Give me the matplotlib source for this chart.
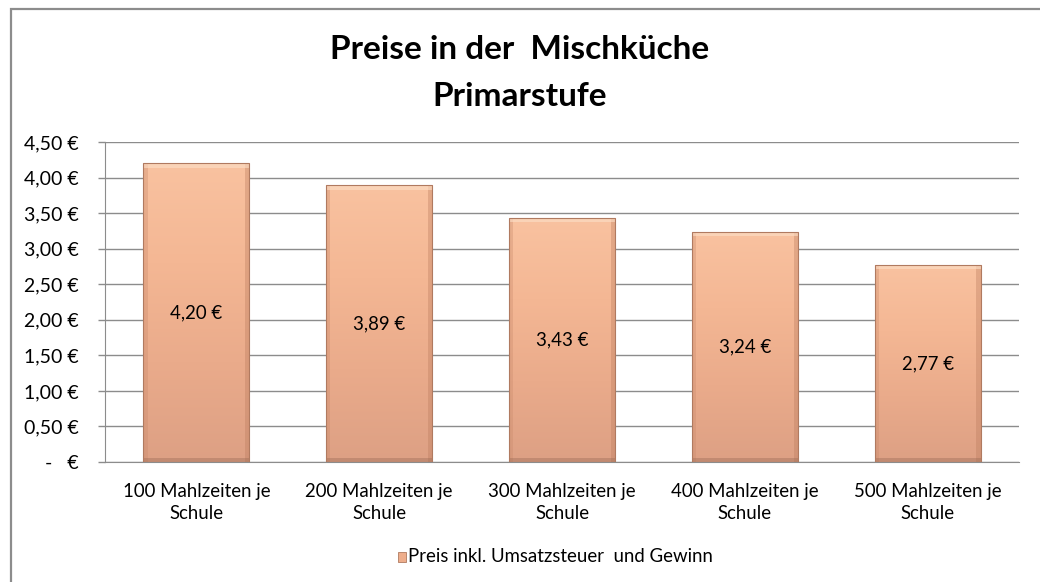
import numpy as np
import matplotlib
matplotlib.use("Agg")
import matplotlib.pyplot as plt
from matplotlib.patches import Rectangle
from matplotlib.colors import LinearSegmentedColormap

plt.rcParams['font.family'] = ['Lato', 'DejaVu Sans']

categories = ["100 Mahlzeiten je\nSchule", "200 Mahlzeiten je\nSchule",
              "300 Mahlzeiten je\nSchule", "400 Mahlzeiten je\nSchule",
              "500 Mahlzeiten je\nSchule"]
values = [4.20, 3.89, 3.43, 3.24, 2.77]
value_labels = ["4,20 €", "3,89 €", "3,43 €", "3,24 €", "2,77 €"]
yticks = [0, 0.5, 1.0, 1.5, 2.0, 2.5, 3.0, 3.5, 4.0, 4.5]
ytick_labels = ["-   €", "0,50 €", "1,00 €", "1,50 €", "2,00 €", "2,50 €",
                "3,00 €", "3,50 €", "4,00 €", "4,50 €"]
title = "Preise in der  Mischküche\nPrimarstufe"
legend_label = "Preis inkl. Umsatzsteuer  und Gewinn"

W, H = 1040, 582
fig = plt.figure(figsize=(W/100, H/100), dpi=100)

# outer chart frame
fig.patches.append(Rectangle((11/W, -0.05), 1.2, (H-9)/H + 0.05,
                             transform=fig.transFigure, fill=False,
                             edgecolor="#8c8c8c", linewidth=1.6))

left, right, top, bottom = 105, 1019, 142, 462
ax = fig.add_axes([left/W, 1-bottom/H, (right-left)/W, (bottom-top)/H])
ax.set_xlim(-0.5, len(values)-0.5)
ax.set_ylim(0, 4.5)
ax.set_yticks(yticks)
ax.set_yticklabels(ytick_labels, fontsize=14)
ax.set_xticks(range(len(values)))
ax.set_xticklabels(categories, fontsize=13.4, linespacing=1.4)
ax.tick_params(axis='x', length=0, pad=15)
ax.tick_params(axis='y', length=5, color="#8c8c8c", width=1, pad=14)
ax.grid(axis='y', color="#8c8c8c", linewidth=1)
ax.set_axisbelow(True)
for s in ['top', 'right']:
    ax.spines[s].set_visible(False)
ax.spines['left'].set_color("#8c8c8c")
ax.spines['bottom'].set_color("#8c8c8c")

cmap = LinearSegmentedColormap.from_list(
    "peach", ["#dda084", "#eaab8b", "#f4b794", "#f9c2a0"])
grad = np.linspace(0, 1, 256).reshape(-1, 1)
bw = 0.58
bars = ax.bar(range(len(values)), values, width=bw, color="none",
              edgecolor="#b07a60", linewidth=0.8, zorder=3)
for i, (b, v) in enumerate(zip(bars, values)):
    im = ax.imshow(grad, cmap=cmap, aspect='auto', origin='lower',
                   extent=[i-bw/2, i+bw/2, 0, v], zorder=2)
    im.set_clip_path(b)
    # subtle bevel edges
    ax.add_patch(Rectangle((i-bw/2, 0), bw*0.04, v, color="#c98a6c",
                           alpha=0.35, zorder=2.5, linewidth=0))
    ax.add_patch(Rectangle((i+bw/2-bw*0.04, 0), bw*0.04, v, color="#b97a5c",
                           alpha=0.35, zorder=2.5, linewidth=0))
    ax.add_patch(Rectangle((i-bw/2, v-0.06), bw, 0.06, color="#fde0c8",
                           alpha=0.6, zorder=2.5, linewidth=0))
    ax.add_patch(Rectangle((i-bw/2, 0), bw, 0.05, color="#9a6a55",
                           alpha=0.4, zorder=2.5, linewidth=0))
    ax.text(i, v/2, value_labels[i], ha='center', va='center',
            fontsize=13.4, zorder=4)
ax.set_xlim(-0.5, len(values)-0.5)
ax.set_ylim(0, 4.5)

fig.text(520/W, 1-73/H, title, ha='center', va='center', fontsize=24,
         fontweight='bold', linespacing=1.75)

# legend
lx, ly = 402, 557
fig.patches.append(Rectangle(((lx-4)/W, 1-(ly+5)/H), 8/W, 10/H,
                             transform=fig.transFigure,
                             facecolor="#eeae8c", edgecolor="#b07a60",
                             linewidth=0.6))
fig.text((lx+6)/W, 1-ly/H, legend_label, ha='left', va='center',
         fontsize=13.4)

fig.savefig("out.png", dpi=100)
